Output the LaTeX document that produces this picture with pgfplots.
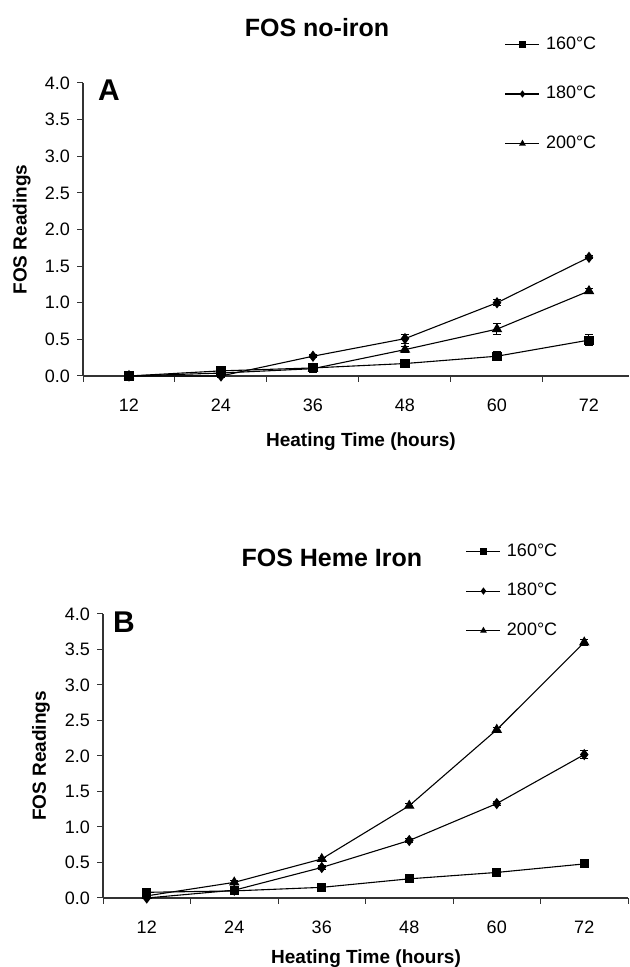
\documentclass[border=0pt]{standalone}
\usepackage{fontspec}
\setmainfont{Liberation Sans}
\usepackage{pgfplots}
\pgfplotsset{compat=1.18}

\pgfplotsset{
  fos/.style={
    scale only axis,
    axis x line=bottom, axis y line=left,
    axis line style={-, line width=0.6pt, black!80},
    xmin=-0.5,
    ymin=0, ymax=4,
    ytick={0,0.5,...,4},
    yticklabel style={/pgf/number format/.cd, fixed, fixed zerofill, precision=1},
    xtick={0,...,5}, xticklabels={12,24,36,48,60,72},
    minor xtick={-0.5,0.5,...,5.5},
    major x tick style={draw=none},
    tick align=outside,
    major tick length=3pt, minor tick length=3pt,
    tick style={black!80, line width=0.5pt},
    xticklabel style={yshift=-5pt},
    ticklabel style={font=\fontsize{9}{11}\selectfont},
    /pgf/number format/assume math mode=true,
    label style={font=\bfseries\fontsize{9.5}{11}\selectfont},
    xlabel={Heating Time (hours)},
    ylabel={FOS Readings},
    title style={anchor=center, yshift=-6pt, font=\bfseries\fontsize{12.5}{14}\selectfont},
    legend cell align=left,
    legend image code/.code={
      \draw[mark repeat=2, mark phase=2, mark size=1.4pt]
        plot coordinates {(0pt,0pt) (8.5pt,0pt) (17pt,0pt)};},
    legend style={draw=none, fill=none, anchor=north west,
      font=\fontsize{9}{10}\selectfont,
      nodes={inner sep=1pt},
      /tikz/every odd column/.append style={column sep=2pt}},
    error bars/error bar style={line width=0.5pt},
    error bars/error mark options={rotate=90, mark size=2pt, line width=0.5pt},
    clip=false,
  },
  s160/.style={black, line width=0.55pt, mark=square*, mark size=2pt,
    error bars/.cd, y dir=both, y explicit},
  s180/.style={black, line width=0.55pt, mark=diamond*, mark size=2.4pt,
    error bars/.cd, y dir=both, y explicit},
  s200/.style={black, line width=0.55pt, mark=triangle*, mark size=2.5pt,
    error bars/.cd, y dir=both, y explicit},
}

\begin{document}
\begin{tikzpicture}
\useasboundingbox (0,0) rectangle (314.5pt,483.5pt);

% panel A
\begin{axis}[fos,
  at={(41.5pt,295.5pt)}, anchor=south west,
  width=273pt, height=146.5pt,
  xmax=5.435,
  title={FOS no-iron},
  title style={at={(0.4286,1.188)}},
  xlabel style={at={(0.509,-0.224)}, anchor=center},
  ylabel style={at={(-0.112,0.5)}, anchor=center},
  legend style={at={(0.761,1.18)}, row sep=15pt},
]
\addplot[s160] coordinates {
  (0,0) +- (0,0.02) (1,0.07) +- (0,0.05) (2,0.11) +- (0,0.06)
  (3,0.17) +- (0,0.04) (4,0.27) +- (0,0.06) (5,0.49) +- (0,0.07)};
\addplot[s180] coordinates {
  (0,0) +- (0,0.01) (1,0.0) +- (0,0.02) (2,0.27) +- (0,0.02)
  (3,0.51) +- (0,0.06) (4,1.00) +- (0,0.04) (5,1.62) +- (0,0.02)};
\addplot[s200] coordinates {
  (0,0) +- (0,0.01) (1,0.04) +- (0,0.03) (2,0.10) +- (0,0.05)
  (3,0.36) +- (0,0.04) (4,0.64) +- (0,0.07) (5,1.16) +- (0,0.03)};
\legend{160°C, 180°C, 200°C}
\node[font=\bfseries\fontsize{15}{17}\selectfont] at (rel axis cs:0.0476,0.976) {A};
\end{axis}

% panel B
\begin{axis}[fos,
  at={(51.5pt,34.5pt)}, anchor=south west,
  width=262.5pt, height=142pt,
  xmax=5.5,
  title={FOS Heme Iron},
  title style={at={(0.436,1.197)}},
  xlabel style={at={(0.501,-0.215)}, anchor=center},
  ylabel style={at={(-0.118,0.5)}, anchor=center},
  legend style={at={(0.679,1.27)}, row sep=10pt},
]
\addplot[s160] coordinates {
  (0,0.08) +- (0,0.02) (1,0.10) +- (0,0.01) (2,0.15) +- (0,0.02)
  (3,0.27) +- (0,0.02) (4,0.36) +- (0,0.05) (5,0.48) +- (0,0.03)};
\addplot[s180] coordinates {
  (0,0.0) +- (0,0.01) (1,0.11) +- (0,0.02) (2,0.43) +- (0,0.03)
  (3,0.81) +- (0,0.03) (4,1.33) +- (0,0.03) (5,2.02) +- (0,0.06)};
\addplot[s200] coordinates {
  (0,0.03) +- (0,0.01) (1,0.22) +- (0,0.02) (2,0.55) +- (0,0.02)
  (3,1.30) +- (0,0.03) (4,2.37) +- (0,0.03) (5,3.60) +- (0,0.04)};
\legend{160°C, 180°C, 200°C}
\node[font=\bfseries\fontsize{15}{17}\selectfont] at (rel axis cs:0.04,0.972) {B};
\end{axis}
\end{tikzpicture}
\end{document}
